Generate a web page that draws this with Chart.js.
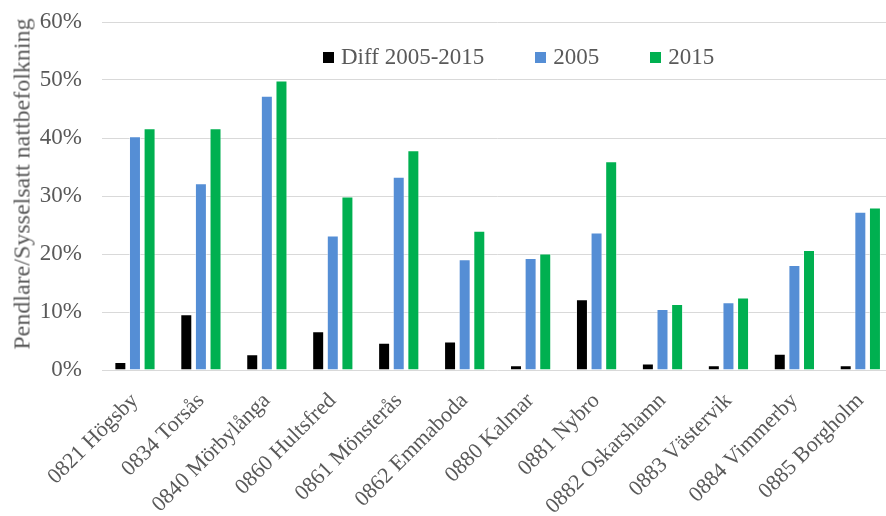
<!DOCTYPE html>
<html>
<head>
<meta charset="utf-8">
<script src="https://cdn.jsdelivr.net/npm/chart.js@4/dist/chart.umd.min.js"></script>
<style>
  html, body { margin: 0; padding: 0; background: #fff; overflow: hidden; }
  #wrap { position: relative; width: 897px; height: 516px; }
  #legend { position: absolute; top: 43px; left: 323px; display: flex; font-family: "Liberation Serif", "Times New Roman", serif; font-size: 23px; line-height: 28px; color: #595959; white-space: nowrap; }
  #legend .item { display: flex; align-items: center; margin-right: 51px; }
  #legend .box { width: 11px; height: 11px; margin-right: 7px; }
  #ytitle { position: absolute; left: 22px; top: 184px; transform: translate(-50%, -50%) rotate(-90deg); font-family: "Liberation Serif", "Times New Roman", serif; font-size: 24px; color: #595959; white-space: nowrap; }
</style>
</head>
<body>
<div id="wrap">
  <canvas id="chart" width="897" height="516"></canvas>
  <div id="legend"></div>
  <div id="ytitle"></div>
</div>
<script>
const kommuner = ['0821 Högsby', '0834 Torsås', '0840 Mörbylånga', '0860 Hultsfred', '0861 Mönsterås', '0862 Emmaboda',
  '0880 Kalmar', '0881 Nybro', '0882 Oskarshamn', '0883 Västervik', '0884 Vimmerby', '0885 Borgholm'];
const diff0515 = [1.4, 9.6, 2.7, 6.7, 4.7, 4.9, 0.8, 12.2, 1.1, 0.8, 2.8, 0.8];
const andel2005 = [40.3, 32.2, 47.3, 23.2, 33.3, 19.1, 19.3, 23.7, 10.5, 11.7, 18.1, 27.3];
const andel2015 = [41.7, 41.7, 49.9, 29.9, 37.9, 24.0, 20.1, 36.0, 11.4, 12.5, 20.7, 28.0];
const yTitle = 'Pendlare/Sysselsatt nattbefolkning';

const serif = '"Liberation Serif", "Times New Roman", serif';
const textGrey = '#595959';

const series = [
  { label: 'Diff 2005-2015', data: diff0515, color: '#000000' },
  { label: '2005', data: andel2005, color: '#558ED5' },
  { label: '2015', data: andel2015, color: '#00B050' }
];

const ctx = document.getElementById('chart').getContext('2d');
new Chart(ctx, {
  type: 'bar',
  data: {
    labels: kommuner,
    datasets: series.map(s => ({
      label: s.label,
      data: s.data,
      backgroundColor: s.color,
      borderColor: 'rgba(255,255,255,0.5)',
      borderWidth: 1,
      categoryPercentage: 0.665,
      barPercentage: 0.82
    }))
  },
  options: {
    responsive: false,
    animation: false,
    layout: { padding: { top: 22, left: 0, right: 0, bottom: 0 } },
    plugins: {
      legend: { display: false },
      tooltip: { enabled: false }
    },
    scales: {
      x: {
        grid: { display: false, drawTicks: false },
        border: { display: false },
        ticks: {
          color: textGrey,
          font: { family: serif, size: 22 },
          minRotation: 45,
          maxRotation: 45,
          padding: 18,
          autoSkip: false
        },
        afterFit: scale => { scale.height = 146; }
      },
      y: {
        min: 0,
        max: 60,
        grid: { color: '#d9d9d9', lineWidth: 1, drawTicks: false },
        border: { display: false },
        ticks: {
          stepSize: 10,
          color: textGrey,
          font: { family: serif, size: 23 },
          padding: 20,
          callback: v => v + '%'
        },
        afterFit: scale => {
          scale.width = 102;
          scale.paddingTop = 0;
          scale.paddingBottom = 0;
        }
      }
    }
  }
});

document.getElementById('ytitle').textContent = yTitle;

const legend = document.getElementById('legend');
series.forEach(s => {
  const item = document.createElement('div');
  item.className = 'item';
  const box = document.createElement('span');
  box.className = 'box';
  box.style.background = s.color;
  const txt = document.createElement('span');
  txt.textContent = s.label;
  item.appendChild(box);
  item.appendChild(txt);
  legend.appendChild(item);
});
</script>
</body>
</html>
